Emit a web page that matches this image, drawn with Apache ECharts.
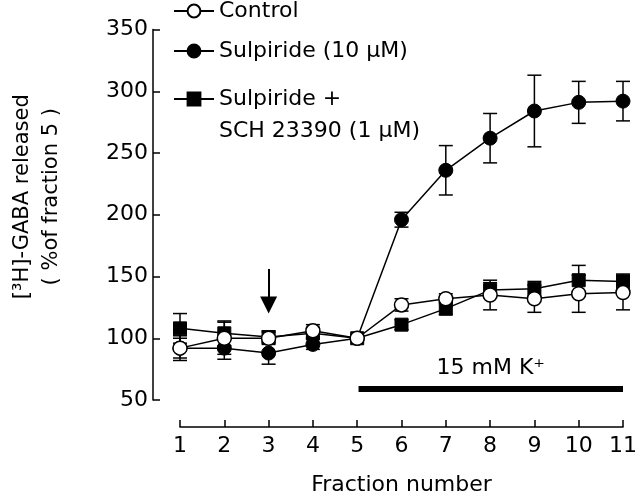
<!DOCTYPE html>
<html>
<head>
<meta charset="utf-8">
<script src="https://cdn.jsdelivr.net/npm/echarts@6/dist/echarts.min.js"></script>
<style>
  html, body { margin: 0; padding: 0; background: #fff; }
  #chart { width: 640px; height: 501px; }
</style>
</head>
<body>
<div id="chart"></div>
<script>
const fractions = [1, 2, 3, 4, 5, 6, 7, 8, 9, 10, 11]
const controlMean = [92, 100, 100, 106, 100, 127, 132, 135, 132, 136, 137]
const controlErr = [10, 13, 5, 5, 0, 5, 4, 12, 11, 15, 14]
const sulpMean = [92, 92, 88, 95, 100, 196, 236, 262, 284, 291, 292]
const sulpErr = [8, 9, 9, 4, 0, 6, 20, 20, 29, 17, 16]
const schMean = [108, 104, 101, 104, 100, 111, 124, 139, 140, 147, 146]
const schErr = [12, 10, 5, 4, 0, 4, 5, 6, 6, 12, 6]

// annotations: K+ bar and the arrow at fraction 3
const kBarX = [5.03, 11]
const kBarY = 59
const arrowX = 3
const arrowY = [156, 127]

const FONT = 'DejaVu Sans'

const chart = echarts.init(document.getElementById('chart'))

function pairs(xs, ys) {
  return xs.map((x, i) => [x, ys[i]])
}

function errData(xs, m, e) {
  return xs.map((x, i) => [x, m[i] - e[i], m[i] + e[i]])
}

function errorBarRender(params, api) {
  const x = api.value(0)
  const lo = api.value(1)
  const hi = api.value(2)
  if (hi - lo <= 0) return
  const p1 = api.coord([x, lo])
  const p2 = api.coord([x, hi])
  const w = 7
  const st = { stroke: '#000', lineWidth: 1.5 }
  return {
    type: 'group',
    children: [
      { type: 'line', shape: { x1: p1[0], y1: p1[1], x2: p2[0], y2: p2[1] }, style: st },
      { type: 'line', shape: { x1: p1[0] - w, y1: p1[1], x2: p1[0] + w, y2: p1[1] }, style: st },
      { type: 'line', shape: { x1: p2[0] - w, y1: p2[1], x2: p2[0] + w, y2: p2[1] }, style: st }
    ]
  }
}

function errSeries(name, xs, m, e) {
  return {
    name: name + ' err',
    type: 'custom',
    renderItem: errorBarRender,
    data: errData(xs, m, e),
    encode: { x: 0, y: [1, 2] },
    z: 1,
    silent: true
  }
}

const legendText = { fontFamily: FONT, fontSize: 22, color: '#000', lineHeight: 24 }

function legendAt(name, top) {
  return {
    data: [name],
    left: 173,
    top: top,
    orient: 'vertical',
    padding: 0,
    itemWidth: 40,
    itemHeight: 16,
    textStyle: legendText
  }
}

const option = {
  animation: false,
  backgroundColor: '#fff',
  textStyle: { fontFamily: FONT },
  grid: { left: 174, right: 11, top: 29.5, bottom: 95 },
  legend: [
    legendAt('Control', -1),
    legendAt('Sulpiride (10 μM)', 39),
    legendAt('Sulpiride +', 87)
  ],
  graphic: [
    {
      type: 'text',
      left: 219,
      top: 120,
      style: { text: 'SCH 23390 (1 μM)', font: '22px "DejaVu Sans"', fill: '#000' }
    }
  ],
  xAxis: {
    type: 'value',
    min: 1,
    max: 11,
    interval: 1,
    offset: 27,
    name: 'Fraction number',
    nameLocation: 'middle',
    nameGap: 47,
    nameTextStyle: { fontFamily: FONT, fontSize: 22, color: '#000' },
    axisLine: { show: true, lineStyle: { color: '#000', width: 1.5 } },
    axisTick: { show: true, inside: true, length: 7, lineStyle: { color: '#000', width: 1.5 } },
    axisLabel: { fontFamily: FONT, fontSize: 22, color: '#000', margin: 8 },
    splitLine: { show: false }
  },
  yAxis: {
    type: 'value',
    min: 50,
    max: 350,
    interval: 50,
    offset: 27,
    name: '[³H]-GABA released\n( %of fraction 5 )',
    nameLocation: 'middle',
    nameGap: 87,
    nameRotate: 90,
    nameTextStyle: { fontFamily: FONT, fontSize: 21, color: '#000', lineHeight: 29, padding: [0, 0, 0, 36] },
    axisLine: { show: true, lineStyle: { color: '#000', width: 1.5 } },
    axisTick: { show: true, inside: true, length: 7, lineStyle: { color: '#000', width: 1.5 } },
    axisLabel: { fontFamily: FONT, fontSize: 22, color: '#000', margin: 5 },
    splitLine: { show: false }
  },
  series: [
    errSeries('sch', fractions, schMean, schErr),
    errSeries('sulp', fractions, sulpMean, sulpErr),
    errSeries('control', fractions, controlMean, controlErr),
    {
      name: 'Sulpiride +',
      type: 'line',
      data: pairs(fractions, schMean),
      symbol: 'rect',
      symbolSize: 13,
      lineStyle: { color: '#000', width: 1.5 },
      itemStyle: { color: '#000', borderColor: '#000', borderWidth: 1 },
      z: 2
    },
    {
      name: 'Sulpiride (10 μM)',
      type: 'line',
      data: pairs(fractions, sulpMean),
      symbol: 'circle',
      symbolSize: 14,
      lineStyle: { color: '#000', width: 1.5 },
      itemStyle: { color: '#000', borderColor: '#000', borderWidth: 1 },
      z: 3
    },
    {
      name: 'Control',
      type: 'line',
      data: pairs(fractions, controlMean),
      symbol: 'circle',
      symbolSize: 14,
      lineStyle: { color: '#000', width: 1.5 },
      itemStyle: { color: '#fff', borderColor: '#000', borderWidth: 1.5 },
      z: 4
    },
    {
      name: 'annotations',
      type: 'line',
      data: [],
      silent: true,
      markLine: {
        silent: true,
        animation: false,
        data: [
          [
            {
              coord: [kBarX[0], kBarY],
              symbol: 'none',
              lineStyle: { color: '#000', width: 6, type: 'solid' },
              label: {
                show: true,
                position: 'insideMiddleTop',
                distance: 10,
                formatter: '15 mM K⁺',
                fontFamily: FONT,
                fontSize: 22,
                color: '#000'
              }
            },
            { coord: [kBarX[1], kBarY], symbol: 'none' }
          ],
          [
            {
              coord: [arrowX, arrowY[0]],
              symbol: 'none',
              lineStyle: { color: '#000', width: 2, type: 'solid' },
              label: { show: false }
            },
            { coord: [arrowX, arrowY[1]], symbol: 'triangle', symbolSize: 17 }
          ]
        ]
      }
    }
  ]
}

chart.setOption(option)
</script>
</body>
</html>
